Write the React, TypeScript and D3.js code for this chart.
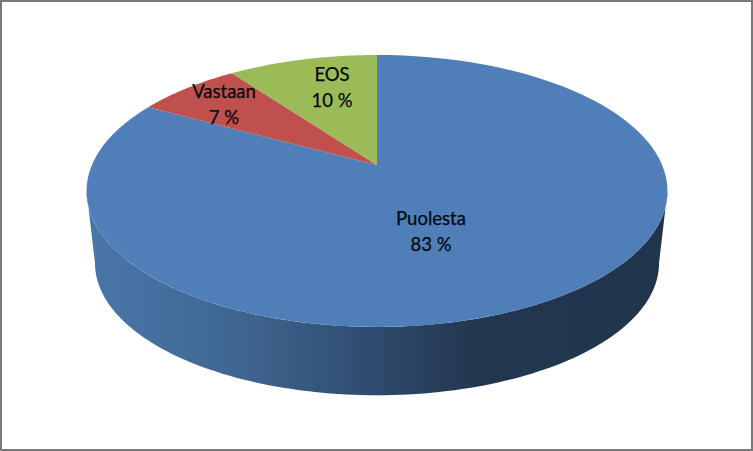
import React from "react";
import * as d3 from "d3";

const categories = ["Puolesta", "Vastaan", "EOS"];
const shares = [83, 7, 10];
const sliceColors = ["#4f7eb9", "#c0504d", "#9bbb59"];

const width = 753;
const height = 451;

// the pie is a tilted disc seen in perspective, so the apex sits above the ellipse centre
const cx = 377;
const topApexY = 165;
const bottomApexY = 238;
const bottomScale = 0.971;
const discA = 285.1;
const discB = 131;
const tilt = 0.191;

// where the text goes, by category
const labelCenters: Record<string, [number, number]> = {
  Puolesta: [431, 232],
  Vastaan: [224, 105],
  EOS: [332, 88],
};

const project = (angle: number, r: number, apexY: number, scale = 1): [number, number] => {
  const u = r * Math.sin(angle);
  const v = r * Math.cos(angle);
  const d = 1 + tilt * v;
  return [cx + (scale * discA * u) / d, apexY - (scale * discB * v) / d];
};

const line = d3.line();

const rim = (from: number, to: number, apexY: number, scale = 1) =>
  d3.range(0, 121).map((i) => project(from + ((to - from) * i) / 120, 1, apexY, scale));

// keep the data order: Puolesta starts at 12 o'clock and goes clockwise
const pie = d3
  .pie<number>()
  .sort(null)
  .value((d) => d);

const slices = pie(shares);

// silhouette of the side wall, between the widest points of the two discs
const leftTurn = Math.PI * 2 - Math.acos(-tilt);
const rightTurn = Math.acos(-tilt);

const sidePath =
  line([
    ...rim(rightTurn, leftTurn, topApexY),
    ...rim(leftTurn, rightTurn, bottomApexY, bottomScale),
  ]) + "Z";

const App = () => {
  return (
    <svg
      width={width}
      height={height}
      style={{ position: "absolute", left: 0, top: 0, display: "block" }}
    >
      <defs>
        <linearGradient id="side" gradientUnits="userSpaceOnUse" x1={90} y1={0} x2={665} y2={0}>
          <stop offset="0" stopColor="#4a76aa" />
          <stop offset="0.27" stopColor="#3f658f" />
          <stop offset="0.5" stopColor="#2e4a6d" />
          <stop offset="0.66" stopColor="#233850" />
          <stop offset="1" stopColor="#20344c" />
        </linearGradient>
      </defs>
      <rect x={1} y={1} width={width - 2} height={height - 2} fill="#fff" stroke="#7a7a7a" strokeWidth={2} />
      <path d={sidePath} fill="url(#side)" />
      {slices.map((s, i) => (
        <path
          key={categories[i]}
          d={line([[cx, topApexY], ...rim(s.startAngle, s.endAngle, topApexY)]) + "Z"}
          fill={sliceColors[i]}
        />
      ))}
      {slices.map((s, i) => {
        const [x, y] = labelCenters[categories[i]];
        return (
          <text
            key={categories[i]}
            textAnchor="middle"
            fontFamily="Lato, 'Open Sans', sans-serif"
            fontSize={18.5}
            fill="#06080f"
            stroke="#06080f"
            strokeWidth={0.25}
          >
            <tspan x={x} y={y - 7}>
              {categories[i]}
            </tspan>
            <tspan x={x} y={y + 19}>
              {s.value} %
            </tspan>
          </text>
        );
      })}
    </svg>
  );
};

export default App;
